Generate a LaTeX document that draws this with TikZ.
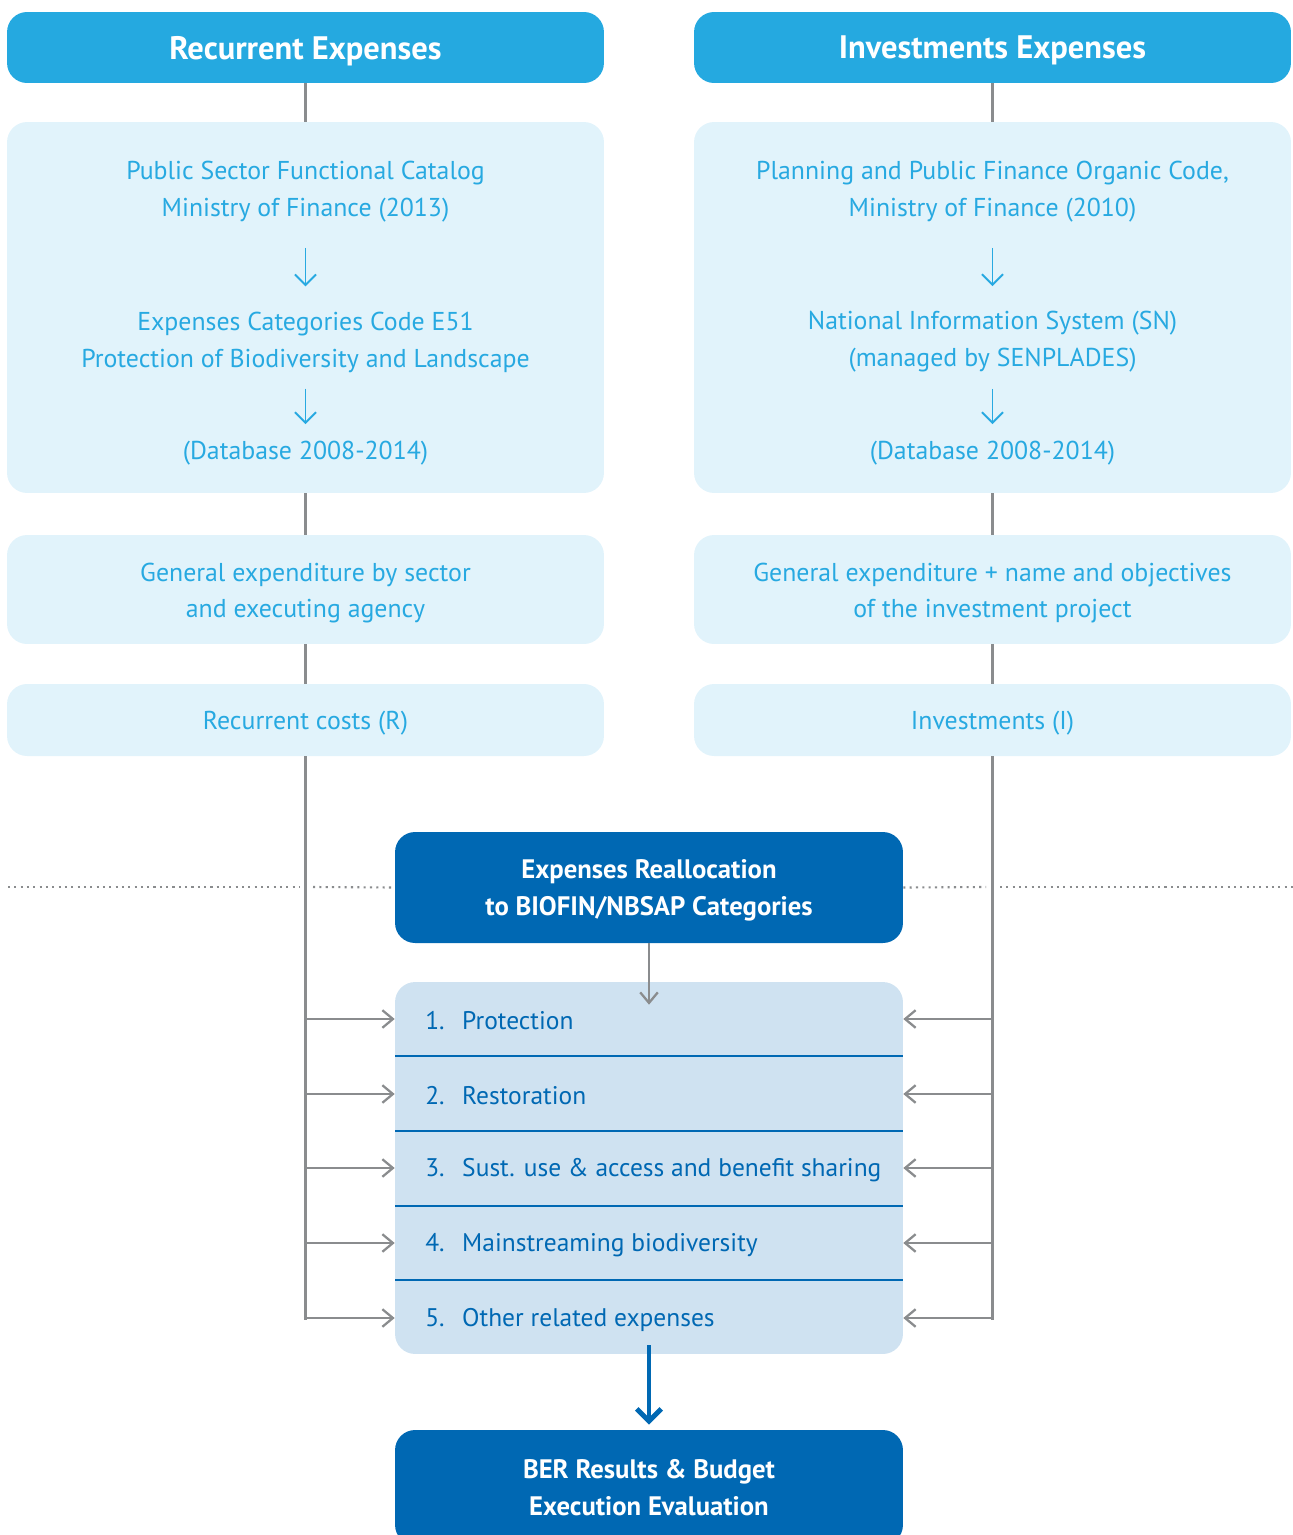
\documentclass[tikz,border=0pt]{standalone}
\usepackage{fontspec}
\setmainfont{PT Sans}
\usetikzlibrary{arrows.meta,positioning,calc}
\definecolor{headblue}{RGB}{37,169,224}
\definecolor{lightfill}{RGB}{225,243,251}
\definecolor{textblue}{RGB}{39,169,225}
\definecolor{darkblue}{RGB}{0,104,179}
\definecolor{catfill}{RGB}{207,226,241}
\definecolor{linegray}{RGB}{138,140,142}
\tikzset{
  headbox/.style={fill=headblue, rounded corners=0.4cm, minimum width=11.94cm, minimum height=1.42cm, text=white, text depth=0pt, font=\bfseries\fontsize{18.5}{22}\selectfont},
  infobox/.style={fill=lightfill, rounded corners=0.4cm, minimum width=11.94cm},
  infotext/.style={text=textblue, align=center, inner sep=0pt, yshift=-0.07cm, font=\fontsize{14.7}{21}\selectfont},
  darkbox/.style={fill=darkblue, rounded corners=0.4cm, minimum width=10.16cm, text=white, align=center, text depth=0pt, font=\bfseries\fontsize{15.2}{21}\selectfont},
  cattext/.style={text=darkblue, anchor=west, inner sep=0pt, yshift=-0.04cm, font=\fontsize{14.5}{21}\selectfont},
  link/.style={draw=linegray, line width=1.3pt},
  feed/.style={link, -{Straight Barb[length=6pt,width=10pt,line width=1.3pt]}},
  inarrow/.style={draw=textblue, line width=1.1pt, -{Straight Barb[length=6pt,width=12pt,line width=1.1pt]}},
  mainarrow/.style={draw=darkblue, line width=2.8pt, -{Straight Barb[length=7pt,width=14pt,line width=2.8pt]}},
  sepline/.style={draw=darkblue, line width=1.2pt},
  divider/.style={draw=linegray, line width=1.2pt, dash pattern=on 1.2pt off 2.4pt}
}
\begin{document}
\begin{tikzpicture}[x=0.02cm, y=-0.02cm]
    \useasboundingbox (0,0) rectangle (1293,1535);
    % left column: recurrent expenses
    \node[headbox] (rhead) at (305.5,47.5) {Recurrent Expenses};
    \node[infobox, minimum height=7.42cm] (rbig) at (305.5,307.5) {};
    \node[infotext] (rcat) at (305.5,188.5) {Public Sector Functional Catalog\\Ministry of Finance (2013)};
    \node[infotext] (rcode) at (305.5,338.5) {Expenses Categories Code E51\\Protection of Biodiversity and Landscape};
    \node[infotext] (rdb) at (305.5,450) {(Database 2008-2014)};
    \node[infobox, minimum height=2.18cm] (rgen) at (305.5,589.5) {};
    \node[infotext] at (rgen) {General expenditure by sector\\and executing agency};
    \node[infobox, minimum height=1.44cm] (rcost) at (305.5,720) {};
    \node[infotext] at (rcost) {Recurrent costs (R)};
    % right column: investments expenses
    \node[headbox] (ihead) at (992.5,47.5) {Investments Expenses};
    \node[infobox, minimum height=7.42cm] (ibig) at (992.5,307.5) {};
    \node[infotext] (icode) at (992.5,188.5) {Planning and Public Finance Organic Code,\\Ministry of Finance (2010)};
    \node[infotext] (isys) at (992.5,338.5) {National Information System (SN)\\(managed by SENPLADES)};
    \node[infotext] (idb) at (992.5,450) {(Database 2008-2014)};
    \node[infobox, minimum height=2.18cm] (igen) at (992.5,589.5) {};
    \node[infotext] at (igen) {General expenditure + name and objectives\\of the investment project};
    \node[infobox, minimum height=1.44cm] (invest) at (992.5,720) {};
    \node[infotext] at (invest) {Investments (I)};
    % arrows inside the big boxes
    \draw[inarrow, shorten <=0.5cm, shorten >=0.5cm] (rcat) -- (rcode);
    \draw[inarrow, shorten <=0.32cm, shorten >=0.34cm] (rcode) -- (rdb);
    \draw[inarrow, shorten <=0.5cm, shorten >=0.5cm] (icode) -- (isys);
    \draw[inarrow, shorten <=0.32cm, shorten >=0.34cm] (isys) -- (idb);
    % column links
    \draw[link] (rhead) -- (rbig);
    \draw[link] (rbig) -- (rgen);
    \draw[link] (rgen) -- (rcost);
    \draw[link] (ihead) -- (ibig);
    \draw[link] (ibig) -- (igen);
    \draw[link] (igen) -- (invest);
    % reallocation and categories
    \node[darkbox, minimum height=2.22cm] (realloc) at (649,887.5) {Expenses Reallocation\\to BIOFIN/NBSAP Categories};
    \node[fill=catfill, rounded corners=0.4cm, minimum width=10.16cm, minimum height=7.44cm] (catbox) at (649,1168) {};
    \foreach \y in {1056,1131,1206,1280}
        \draw[sepline] (395,\y) -- (903,\y);
    \foreach \i/\y/\lbl in {1/1019/Protection, 2/1094/Restoration, 3/1168/{Sust. use \& access and benefit sharing}, 4/1243/Mainstreaming biodiversity, 5/1318/Other related expenses} {
        \node[cattext] (cat\i) at (425,\y) {\makebox[21pt][l]{\i.}\lbl};
        \draw[feed] (rcost.south |- 0,\y) -- (catbox.west |- 0,\y);
        \draw[feed] (invest.south |- 0,\y) -- (catbox.east |- 0,\y);
    }
    \draw[link] (rcost) -- (rcost.south |- cat5);
    \draw[link] (invest) -- (invest.south |- cat5);
    \draw[feed] (realloc) -- ([yshift=-0.46cm]catbox.north);
    % dotted divider
    \draw[divider] (8,887) -- (300,887);
    \draw[divider] (313,887) -- (realloc.west);
    \draw[divider] (realloc.east) -- (986,887);
    \draw[divider] (1000,887) -- (1293,887);
    % result
    \node[darkbox, minimum height=2.3cm] (result) at (649,1487.5) {BER Results \& Budget\\Execution Evaluation};
    \draw[mainarrow] ([yshift=0.18cm]catbox.south) -- ([yshift=0.1cm]result.north);
\end{tikzpicture}
\end{document}
